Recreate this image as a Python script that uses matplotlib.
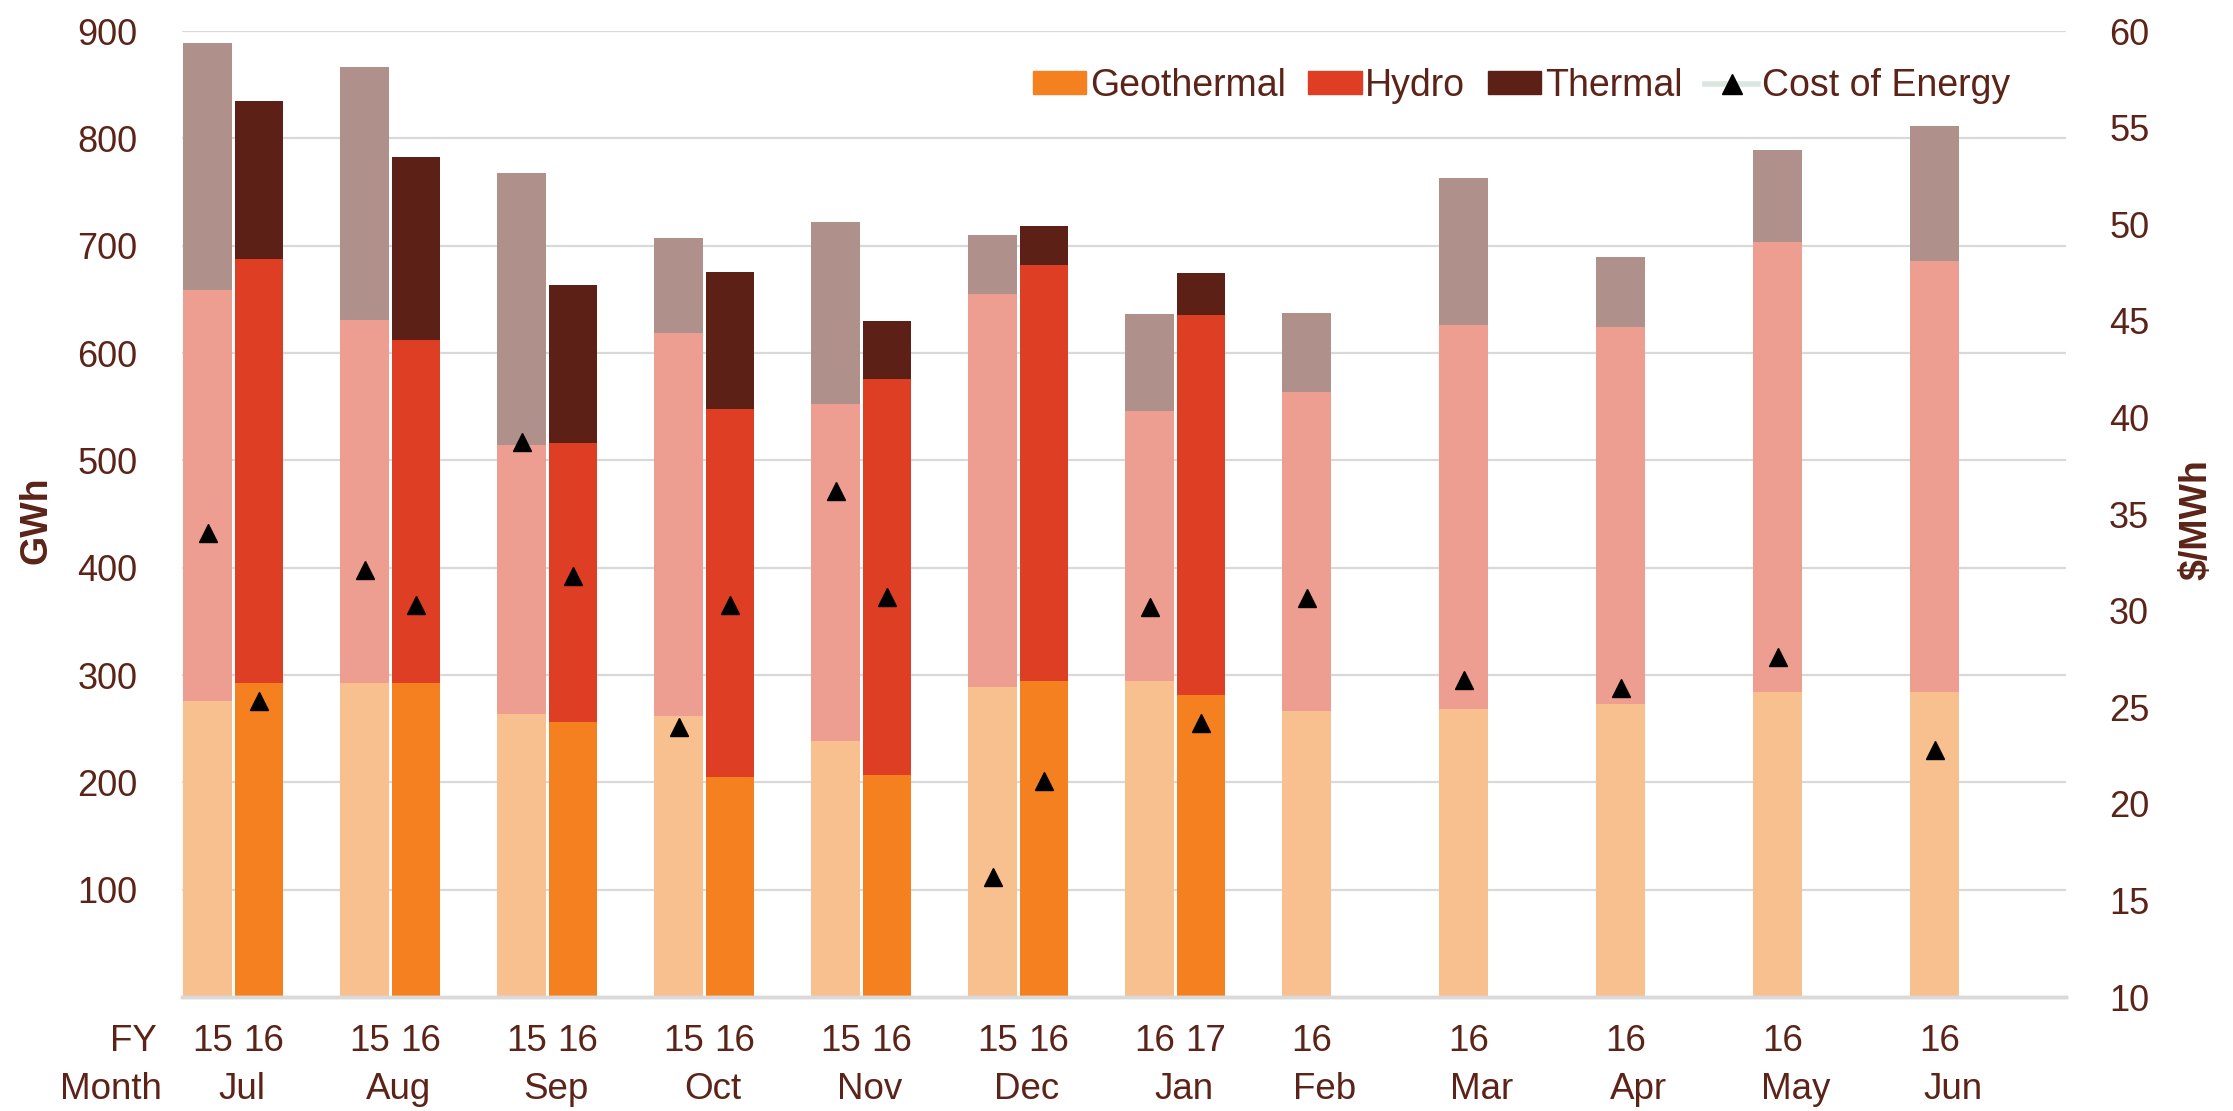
import numpy as np
import matplotlib
matplotlib.use("Agg")
import matplotlib.pyplot as plt
from matplotlib.patches import Patch
from matplotlib.lines import Line2D
from matplotlib.transforms import blended_transform_factory

# months Jul..Jun, first bar = previous year, second bar = current year (Jul..Jan only)
months = ["Jul", "Aug", "Sep", "Oct", "Nov", "Dec", "Jan", "Feb", "Mar", "Apr", "May", "Jun"]
fy_prev = ["15", "15", "15", "15", "15", "15", "16", "16", "16", "16", "16", "16"]
fy_curr = ["16", "16", "16", "16", "16", "16", "17"]

prev_geo = np.array([275.6, 292.5, 263.6, 261.6, 238.3, 288.7, 294.2, 266.5, 268.0, 273.0, 283.8, 283.8])
prev_hydro = np.array([383.0, 338.5, 250.6, 357.0, 314.3, 366.7, 251.9, 297.2, 358.2, 351.2, 419.4, 401.9])
prev_thermal = np.array([230.7, 235.9, 253.3, 88.8, 169.4, 54.9, 90.2, 74.1, 136.5, 65.0, 86.1, 125.6])
prev_cost = [34.0, 32.1, 38.75, 24.0, 36.2, 16.2, 30.2, 30.65, 26.4, 26.0, 27.6, 22.8]

curr_geo = np.array([292.5, 293.0, 256.0, 205.0, 207.0, 294.2, 281.1])
curr_hydro = np.array([394.8, 319.4, 260.4, 343.3, 369.3, 387.9, 354.7])
curr_thermal = np.array([147.7, 170.3, 147.4, 126.9, 53.9, 36.3, 39.2])
curr_cost = [25.3, 30.3, 31.8, 30.3, 30.7, 21.2, 24.2]

txt = "#5C2418"
plt.rcParams["font.family"] = ["Liberation Sans", "DejaVu Sans"]

fig = plt.figure(figsize=(22.33, 11.11), dpi=100)
ax = fig.add_axes([0.0815, 0.1026, 0.8437, 0.8694])
ax2 = ax.twinx()

x = np.arange(len(months))
px = x + 0.163
cx = x[:len(curr_geo)] + 0.49
w = 0.31

ax.bar(px, prev_geo, w, color="#F8BF8F")
ax.bar(px, prev_hydro, w, bottom=prev_geo, color="#EE9E90")
ax.bar(px, prev_thermal, w, bottom=prev_geo + prev_hydro, color="#B0908A")
ax.bar(cx, curr_geo, w, color="#F5801F")
ax.bar(cx, curr_hydro, w, bottom=curr_geo, color="#DE3E24")
ax.bar(cx, curr_thermal, w, bottom=curr_geo + curr_hydro, color="#5C2016")

ax2.plot(px, prev_cost, ls="none", marker="^", color="black", ms=13)
ax2.plot(cx, curr_cost, ls="none", marker="^", color="black", ms=13)

ax.set_xlim(0, 12)
ax.set_ylim(0, 900)
ax.set_yticks(range(100, 1000, 100))
ax2.set_ylim(10, 60)
ax2.set_yticks(range(10, 65, 5))
ax.set_xticks([])

ax.set_axisbelow(True)
ax.yaxis.grid(True, color="#D9D9D9", lw=1.6)
for a in (ax, ax2):
    for s in ("top", "left", "right"):
        a.spines[s].set_visible(False)
    a.spines["bottom"].set_color("#D9D9D9")
    a.spines["bottom"].set_linewidth(2.5)
ax.tick_params(axis="y", length=0, labelsize=26, labelcolor=txt, pad=32)
ax2.tick_params(axis="y", length=0, labelsize=26, labelcolor=txt, pad=31)

fig.text(37 / 2233, 1 - 520 / 1111, "GWh", rotation=90, ha="center", va="center",
         fontsize=27, fontweight="bold", color=txt)
fig.text(2196 / 2233, 1 - 520 / 1111, "$/MWh", rotation=90, ha="center", va="center",
         fontsize=27, fontweight="bold", color=txt)

# two-row category labels
tr = blended_transform_factory(ax.transData, ax.transAxes)
for i, m in enumerate(months):
    ax.text(px[i] + 0.03, -0.0465, fy_prev[i], transform=tr, ha="center", va="center",
            fontsize=26.5, color=txt)
    if i < len(curr_geo):
        ax.text(cx[i] + 0.03, -0.0465, fy_curr[i], transform=tr, ha="center", va="center",
                fontsize=26.5, color=txt)
        mx = i + 0.38
    else:
        mx = i + 0.28
    ax.text(mx, -0.096, m, transform=tr, ha="center", va="center",
            fontsize=26.5, color=txt)
ax.text(-0.16, -0.0465, "FY", transform=tr, ha="right", va="center",
        fontsize=26.5, color=txt)
ax.text(-0.128, -0.096, "Month", transform=tr, ha="right", va="center",
        fontsize=26.5, color=txt)

handles = [
    Patch(color="#F5801F", label="Geothermal"),
    Patch(color="#DE3E24", label="Hydro"),
    Patch(color="#5C2016", label="Thermal"),
    Line2D([], [], color="#DCE6E0", lw=4, marker="^", mfc="black", mec="black", ms=14,
           label="Cost of Energy"),
]
leg = fig.legend(handles=handles, loc="center right", bbox_to_anchor=(2010 / 2233, 1 - 86 / 1111),
                 ncol=4, frameon=False, handlelength=1.42, handleheight=0.58, handletextpad=0.1,
                 columnspacing=0.6, borderpad=0, borderaxespad=0, prop={"size": 27})
for t in leg.get_texts():
    t.set_color(txt)

fig.savefig("out.png", dpi=100)
